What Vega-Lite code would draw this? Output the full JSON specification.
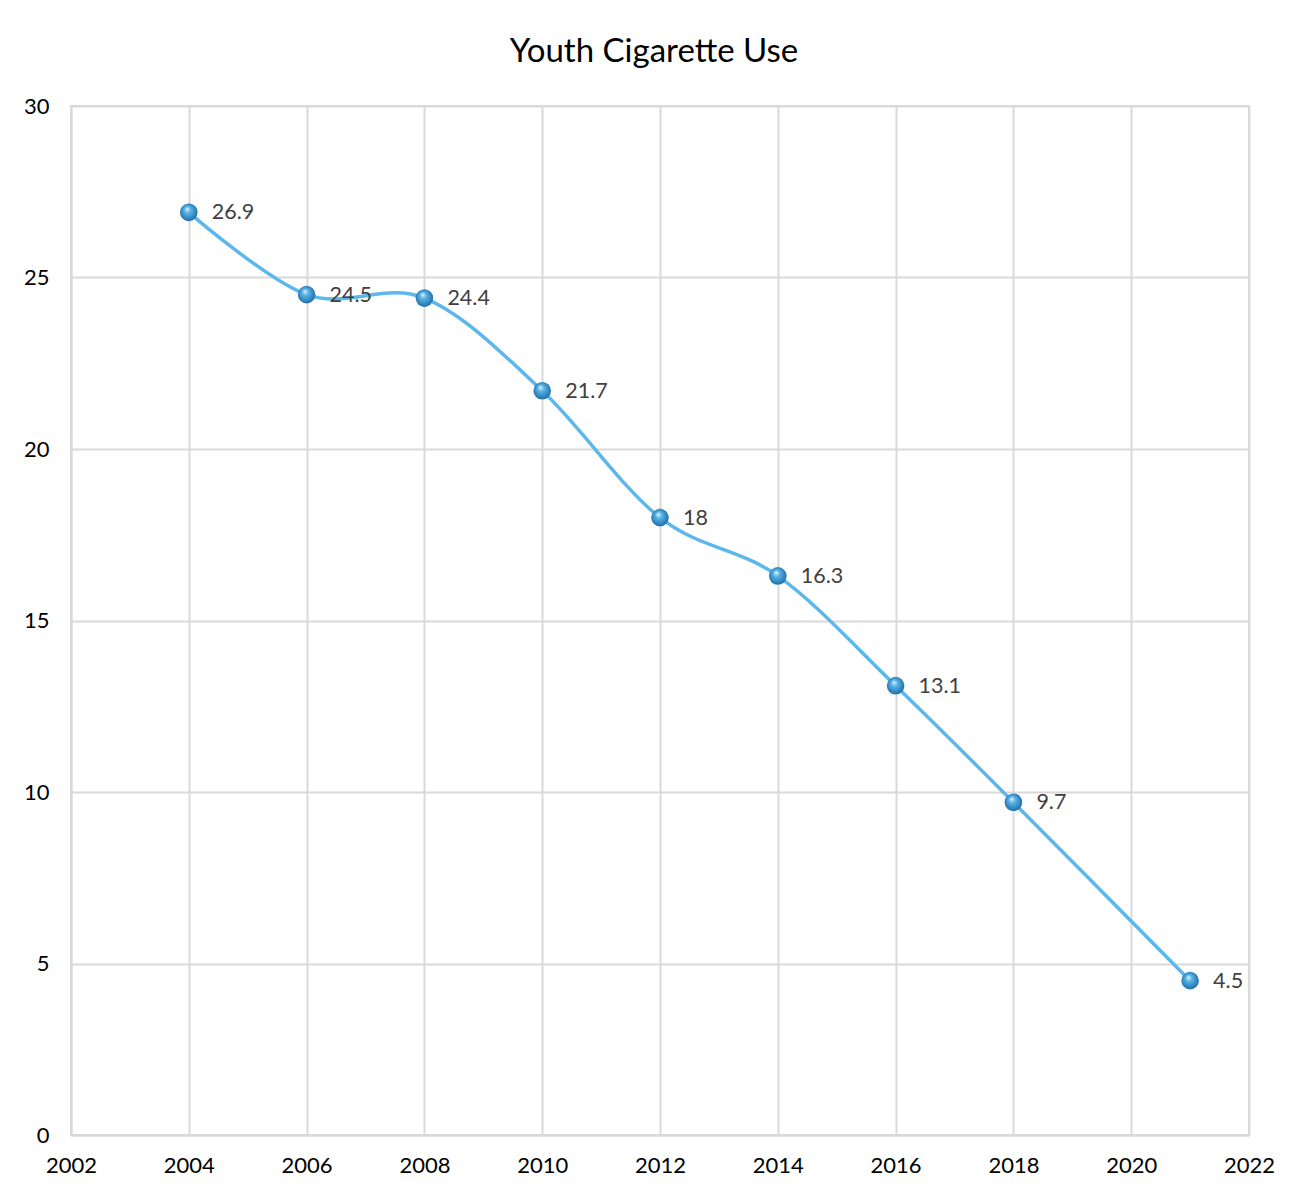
{
  "$schema": "https://vega.github.io/schema/vega-lite/v6.json",
  "autosize": "none",
  "width": 1178,
  "height": 1029,
  "padding": {"left": 71, "top": 106, "right": 56, "bottom": 55},
  "background": "white",
  "title": {
    "text": "Youth Cigarette Use",
    "font": "Lato",
    "fontSize": 33,
    "fontWeight": "normal",
    "color": "#000000",
    "anchor": "middle",
    "offset": 26,
    "dx": -6
  },
  "data": {
    "values": [
      {"year": 2004, "value": 26.9},
      {"year": 2006, "value": 24.5},
      {"year": 2008, "value": 24.4},
      {"year": 2010, "value": 21.7},
      {"year": 2012, "value": 18},
      {"year": 2014, "value": 16.3},
      {"year": 2016, "value": 13.1},
      {"year": 2018, "value": 9.7},
      {"year": 2021, "value": 4.5}
    ]
  },
  "encoding": {
    "x": {
      "field": "year",
      "type": "quantitative",
      "scale": {"domain": [2002, 2022], "nice": false, "zero": false},
      "axis": {
        "title": null,
        "values": [2002, 2004, 2006, 2008, 2010, 2012, 2014, 2016, 2018, 2020, 2022],
        "format": "d",
        "ticks": false,
        "labelFlush": false,
        "labelOverlap": false,
        "labelBound": false,
        "labelPadding": 20,
        "labelFont": "Lato",
        "labelFontSize": 22,
        "labelColor": "#000000",
        "domainColor": "#D9D9D9",
        "domainWidth": 2,
        "gridColor": "#D9D9D9",
        "gridWidth": 2
      }
    },
    "y": {
      "field": "value",
      "type": "quantitative",
      "scale": {"domain": [0, 30], "nice": false},
      "axis": {
        "title": null,
        "values": [0, 5, 10, 15, 20, 25, 30],
        "ticks": false,
        "labelFlush": false,
        "labelBound": false,
        "labelPadding": 22,
        "labelFont": "Lato",
        "labelFontSize": 22,
        "labelColor": "#000000",
        "domainColor": "#D9D9D9",
        "domainWidth": 2,
        "gridColor": "#D9D9D9",
        "gridWidth": 2
      }
    }
  },
  "layer": [
    {
      "mark": {"type": "line", "interpolate": "cardinal", "tension": 0, "color": "#5BB7EC", "strokeWidth": 3.5}
    },
    {
      "mark": {
        "type": "point",
        "shape": "circle",
        "filled": true,
        "size": 310,
        "opacity": 1,
        "fill": {
          "gradient": "radial",
          "x1": 0.4, "y1": 0.3, "r1": 0,
          "x2": 0.5, "y2": 0.5, "r2": 0.6,
          "stops": [
            {"offset": 0, "color": "#E8F6FF"},
            {"offset": 0.3, "color": "#5AB4E6"},
            {"offset": 0.75, "color": "#2C7FB8"},
            {"offset": 1, "color": "#1B5C8C"}
          ]
        }
      }
    },
    {
      "mark": {
        "type": "text",
        "align": "left",
        "baseline": "middle",
        "dx": 23,
        "dy": 1,
        "font": "Lato",
        "fontSize": 21.5,
        "color": "#404040"
      },
      "encoding": {"text": {"field": "value", "type": "quantitative"}}
    }
  ],
  "config": {
    "view": {"stroke": "#D9D9D9", "strokeWidth": 2}
  }
}
